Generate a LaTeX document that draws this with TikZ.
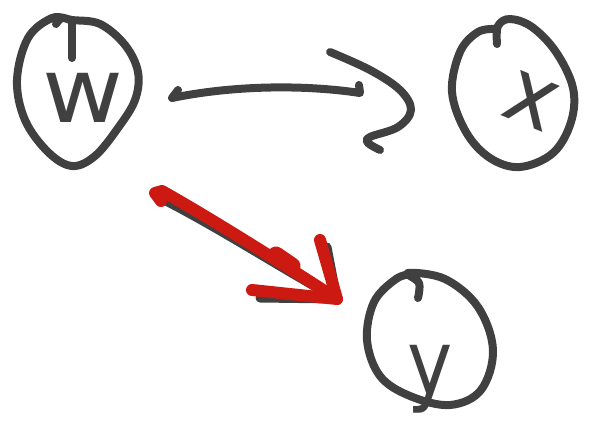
\documentclass[tikz,border=0pt]{standalone}
\usepackage{fontspec}
\newfontfamily\hand{DejaVu Sans}
\definecolor{ink}{HTML}{404040}
\definecolor{redink}{HTML}{CC1A12}
\begin{document}
\begin{tikzpicture}[x=1pt,y=-1pt,
  pen/.style={draw=ink,line width=8pt,line cap=round,line join=round},
  redpen/.style={draw=redink,line width=12pt,line cap=round,line join=round},
  shadowpen/.style={draw=ink,line width=9pt,line cap=round,line join=round},
  letter/.style={text=ink,inner sep=0pt,font=\hand\fontsize{90}{90}\selectfont}]
\useasboundingbox (0,0) rectangle (589,444);
% letters
\node[letter,anchor=base,xscale=1.1] (w) at (83,122) {w};
\node[letter,anchor=base,rotate=-22,xscale=0.95] (x) at (522,124) {x};
\node[letter,anchor=base,xscale=0.85] (y) at (430,394) {y};
% circle W
\draw[pen] plot[smooth,tension=0.6] coordinates {(56,24) (62,18) (72,20) (100,24) (125,45) (138,72) (135,100) (118,128) (95,156) (72,166) (48,152) (25,120) (17,80) (28,38) (52,18) (70,20)};
\draw[pen] (72,22) -- (72,58);
% circle X
\draw[pen] plot[smooth,tension=0.6] coordinates {(497,44) (498,26) (510,19) (532,27) (556,52) (573,88) (571,122) (553,153) (520,167) (490,158) (466,132) (452,92) (460,52) (478,32) (496,29)};
% circle Y
\draw[pen] plot[smooth,tension=0.6] coordinates {(418,298) (419,283) (408,273) (445,279) (478,307) (493,350) (481,390) (450,405) (410,396) (380,376) (367,340) (374,302) (396,279) (412,274)};
% black arrow w -> x
\coordinate (wx0) at (178,90);
\coordinate (wx1) at (172,98);
\coordinate (wx2) at (360,93);
\coordinate (wx3) at (359,85);
\draw[pen] (wx0) -- (wx1) .. controls (230,86) and (300,84) .. (wx2) -- (wx3);
\draw[pen] plot[smooth,tension=0.6] coordinates {(330,52) (370,70) (400,90) (411,110) (398,127) (370,137) (368,143) (380,150)};
% red arrow w -> y, shadow
\coordinate (wy0) at (160,198);
\coordinate (wy1) at (337,299);
\begin{scope}[shift={(4,5)}]
\draw[shadowpen] (wy0) .. controls (210,220) and (280,265) .. (wy1);
\draw[shadowpen] (256,293) -- (wy1) -- (323,242);
\end{scope}
\draw[redpen] (161,201) -- (155,193) -- (162,191) .. controls (210,218) and (280,262) .. (wy1);
\draw[redink,line width=17pt,line cap=round] (276,255) -- (292,266);
\draw[redpen] (252,290) -- (wy1) -- (320,240);
\end{tikzpicture}
\end{document}
